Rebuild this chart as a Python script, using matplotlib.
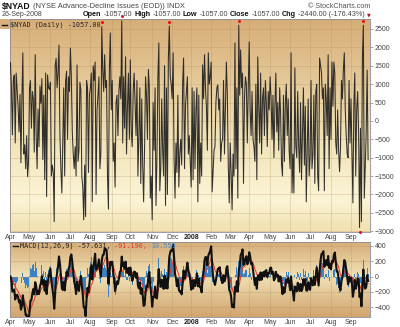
import numpy as np
import pandas as pd
import matplotlib
matplotlib.use("Agg")
import matplotlib.pyplot as plt
from matplotlib.colors import LinearSegmentedColormap
from matplotlib.ticker import MultipleLocator
from matplotlib.patches import Rectangle

W, H = 400, 327

symbol = "$NYAD"
title = "(NYSE Advance-Decline Issues (EOD)) INDX"
last_date = "26-Sep-2008"

# NYSE advancing minus declining issues, one list per month
apr07 = [1580, 900, -380, 1100, 1250, -600, 1300, 850, 400, -300, 720, -1140, 600, 1850, -900, -650, -1300, -400, -1520, -1100]
may07 = [900, 1100, -200, 800, 600, -850, 1800, -400, -1300, 320, -700, 950, 480, 1150, -1050, 700, -1600, 1300, -2060, 1250, 900, 850]
jun07 = [1050, -1500, -1200, -1400, -2740, 1500, 1700, 900, 1300, 2060, -400, -1300, -1960, -600, 900, -1500, 1100, 1350, -500, 1200, 800]
jul07 = [1980, 1200, -300, -900, -1300, -700, -1500, 1520, -1100, -800, 1050, 850, -1500, -1800, -2690, -1200, -2600, 1100, 900, -1400, 700]
aug07 = [900, 1300, -2200, 1500, 1100, 1600, -2000, 300, 700, 1200, -1300, -900, 2560, 1400, 800, 1800, 900, 1100, -1500, -2400, 1400, 2390, 300]
sep07 = [1100, -1100, -600, -1800, 500, 700, -400, 800, 1200, 600, 2720, -600, 1200, -200, 1740, -900, 400, 1300, -500]
oct07 = [1660, -300, -700, 800, 1300, 500, -400, 1100, -1500, -400, 900, -1700, 600, -1200, -2200, -700, 1200, 700, -500, 1400, 900, -2100, -1500]
nov07 = [-2690, 500, -800, 900, -2300, -1000, 1200, 2120, -1900, -1300, 600, -800, -1500, 1500, -2300, 900, -2000, 1700, 2580, 1200, 1000]
dec07 = [600, 1850, -1000, -2100, -600, -1400, 700, -1800, -900, -500, -1200, 1000, 1710, -1300, 400, 800, 1200, -900, -400, -1100]
jan08 = [-1800, 900, -1600, 800, -1300, 300, 900, -2200, 700, -1700, -600, -1500, 1520, 600, 1800, 900, 400, -800, 1850, 1000, 1200]
feb08 = [1600, -1930, -1400, -800, -700, 500, 900, 980, 300, 600, -1100, -600, -500, 1100, -900, 400, 1600, 700, -1200, -2230]
mar08 = [-600, -1400, -2420, -900, -1500, 2120, -1300, 900, -2100, 2600, 700, 1930, 900, 1300, -1700, 600, 1200, 1000, -600, 900]
apr08 = [2150, 300, -400, 800, -500, -700, -1100, 1000, -1600, 1740, 400, -600, 1300, -900, 600, 900, -400, 1100, 500, -700, 800, 300]
may08 = [1200, 600, -500, 700, -1000, 400, 1300, -300, 500, -800, 900, 200, -1200, -1500, 700, -1100, 500, 1000, -400, 600, -800]
jun08 = [-1300, 1850, -1960, -900, -1960, 1440, -700, -1000, 800, -700, -1400, 500, -1600, -300, 900, -1200, 400, -2200, -800, 600, -1500]
jul08 = [-1000, 1100, -1300, -900, 700, -1700, 800, 1000, -1500, -1900, 1710, 1500, 1300, 600, 900, -1900, 1000, 600, -400, 1800, -1300, 900]
aug08 = [-500, 1600, 400, 1600, 1300, -600, -900, 300, -800, -1380, -700, 1100, 600, 1400, 1850, 300, -400, -900, -1000, 1100, -600]
sep08 = [600, -900, -2230, 400, 1300, -1500, 300, 800, -300, -2900, -200, -2740, 1700, 2600, -2100, -1260, -300, 1383, -1057]

monthly = [apr07, may07, jun07, jul07, aug07, sep07, oct07, nov07, dec07,
           jan08, feb08, mar08, apr08, may08, jun08, jul08, aug08, sep08]

nyse_holidays = ["2007-04-06", "2007-05-28", "2007-07-04", "2007-09-03", "2007-11-22",
                 "2007-12-25", "2008-01-01", "2008-01-21", "2008-02-18", "2008-03-21",
                 "2008-05-26", "2008-07-04", "2008-09-01"]

days = pd.bdate_range("2007-04-02", "2008-09-26")
days = days[~days.isin(pd.to_datetime(nyse_holidays))]
nyad = np.concatenate([np.asarray(m, dtype=float) for m in monthly])
n = len(nyad)
assert n == len(days), (n, len(days))
x = np.arange(n)

# MACD(12,26,9) of the daily series
s = pd.Series(nyad)
macd = (s.ewm(span=12, adjust=False).mean() - s.ewm(span=26, adjust=False).mean()).to_numpy()
signal = pd.Series(macd).ewm(span=9, adjust=False).mean().to_numpy()
hist = macd - signal

# month boundaries for ticks and grid
periods = days.to_period("M")
month_starts = [i for i in range(n) if i == 0 or periods[i] != periods[i - 1]]
month_labels = []
for i in month_starts:
    d = days[i]
    month_labels.append(str(d.year) if d.month == 1 else d.strftime("%b"))

sans = ["Liberation Sans", "DejaVu Sans"]
mono = ["DejaVu Sans Mono"]

fig = plt.figure(figsize=(W / 100, H / 100), dpi=100)
fig.patch.set_facecolor("white")


def px_axes(l, t, r, b):
    return fig.add_axes([l / W, 1 - b / H, (r - l) / W, (b - t) / H])


def fx(px):
    return px / W


def fy(py):
    return 1 - py / H


xlo, xhi = -0.5, n + 1.0
main_ylim = (-3020, 2770)
macd_ylim = (-530, 452)

ax = px_axes(10, 19, 370, 232)
axm = px_axes(10, 242, 370, 317)


def gradient(a, stops, ylim):
    cmap = LinearSegmentedColormap.from_list("bg", stops)
    g = np.linspace(0, 1, 256).reshape(-1, 1)
    a.imshow(g, cmap=cmap, aspect="auto", extent=[xlo, xhi, ylim[0], ylim[1]],
             origin="upper", zorder=0, interpolation="bilinear")


gradient(ax, [(0, "#d7ad77"), (0.55, "#f1e2b6"), (0.85, "#fbf4d5"), (1, "#f1e0b0")], main_ylim)
gradient(axm, [(0, "#d6ad78"), (0.45, "#f1e1b5"), (1, "#d1a46e")], macd_ylim)

for a, ylim, major, minor in ((ax, main_ylim, 500, 100), (axm, macd_ylim, 200, 50)):
    a.set_xlim(xlo, xhi)
    a.set_ylim(*ylim)
    a.yaxis.tick_right()
    a.yaxis.set_major_locator(MultipleLocator(major))
    a.yaxis.set_minor_locator(MultipleLocator(minor))
    a.set_xticks(month_starts)
    a.set_xticklabels(month_labels)
    a.tick_params(axis="x", length=0, pad=1.5, labelsize=5, labelcolor="#444")
    a.tick_params(axis="y", which="major", length=2, width=0.5, pad=1.5,
                  labelsize=5, labelcolor="#444", color="#888")
    a.tick_params(axis="y", which="minor", length=1, width=0.4, color="#aaa")
    for lab in a.get_xticklabels() + a.get_yticklabels():
        lab.set_family(sans)
    for lab, txt in zip(a.get_xticklabels(), month_labels):
        if txt.isdigit():
            lab.set_fontweight("bold")
            lab.set_color("#222")
    a.grid(True, which="major", color="#a88a5c", lw=0.5, alpha=0.35)
    a.set_axisbelow(False)
    for sp in a.spines.values():
        sp.set_color("#8c8c9c")
        sp.set_linewidth(0.6)

# daily line
ax.plot(x, nyad, color="#1c1c1c", lw=0.75, alpha=0.9, zorder=3)
flag = (nyad > 2500) | (nyad < -2800)
ax.plot(x[flag], nyad[flag] + np.sign(nyad[flag]) * 120, "o", ms=2.2, color="#e8101a",
        mec="none", zorder=4, clip_on=False)

# MACD panel
axm.bar(x, hist, width=0.85, color="#3b82c4", edgecolor="none", zorder=2)
axm.plot(x, signal, color="#e8352d", lw=0.7, zorder=3)
axm.plot(x, macd, color="#111111", lw=1.5, zorder=4)

# legends drawn as monospaced runs
mono_size = 4.9
char_px = 0.602 * mono_size * 100 / 72


def mono_runs(x0, y0, runs):
    xp = x0
    for txt, col in runs:
        fig.text(fx(xp), fy(y0), txt, family=mono, fontsize=mono_size, color=col,
                 ha="left", va="center", zorder=10)
        xp += len(txt) * char_px


fig.add_artist(Rectangle((0, fy(29)), fx(10), fy(19) - fy(29), transform=fig.transFigure,
                         facecolor="#d8b07c", edgecolor="none", zorder=1))
fig.add_artist(plt.Line2D([fx(2), fx(7)], [fy(24.5), fy(24.5)], color="#111", lw=1.0,
                          transform=fig.transFigure, zorder=10))
mono_runs(10, 24.5, [(f"{symbol} (Daily) {nyad[-1]:.2f}", "#222")])

fig.add_artist(plt.Line2D([fx(13), fx(18)], [fy(246), fy(246)], color="#111", lw=1.0,
                          transform=fig.transFigure, zorder=10))
mono_runs(20, 246, [(f"MACD(12,26,9) {macd[-1]:.3f}, ", "#222"),
                    (f"{signal[-1]:.3f}, ", "#e8352d"),
                    (f"{hist[-1]:.3f}", "#4a8ccc")])

# header
fig.canvas.draw()
renderer = fig.canvas.get_renderer()


def text_runs(x0, y0, runs, size):
    xp = x0
    gap = size * 100 / 72 * 0.28
    for txt, col, wt, sz in runs:
        t = fig.text(fx(xp), fy(y0), txt, family=sans, fontsize=sz, color=col,
                     fontweight=wt, ha="left", va="center")
        xp += t.get_window_extent(renderer).width + gap
    return xp


text_runs(2, 6.5, [(symbol, "#111", "bold", 6.2), (title, "#444", "normal", 5.4)], 5.4)
fig.text(fx(2), fy(15), last_date, family=sans, fontsize=5, color="#444", ha="left", va="center")
fig.text(fx(370), fy(6), "\u00a9 StockCharts.com", family=sans, fontsize=5.2, color="#555",
         ha="right", va="center")

last = nyad[-1]
prev = nyad[-2]
chg = last - prev
pct = chg / prev * 100
sz2 = 5.2
xe = text_runs(83, 15, [("Open", "#111", "bold", sz2), (f"{last:.2f}", "#444", "normal", sz2),
                        ("High", "#111", "bold", sz2), (f"{last:.2f}", "#444", "normal", sz2),
                        ("Low", "#111", "bold", sz2), (f"{last:.2f}", "#444", "normal", sz2),
                        ("Close", "#111", "bold", sz2), (f"{last:.2f}", "#444", "normal", sz2),
                        ("Chg", "#111", "bold", sz2),
                        (f"{chg:.2f} ({pct:.2f}%)", "#444", "normal", sz2)], sz2)
fig.text(fx(xe), fy(15), "\u25bc", family=["DejaVu Sans"], fontsize=3.5, color="#9a1f2a",
         ha="left", va="center")

fig.savefig("out.png", dpi=100)
